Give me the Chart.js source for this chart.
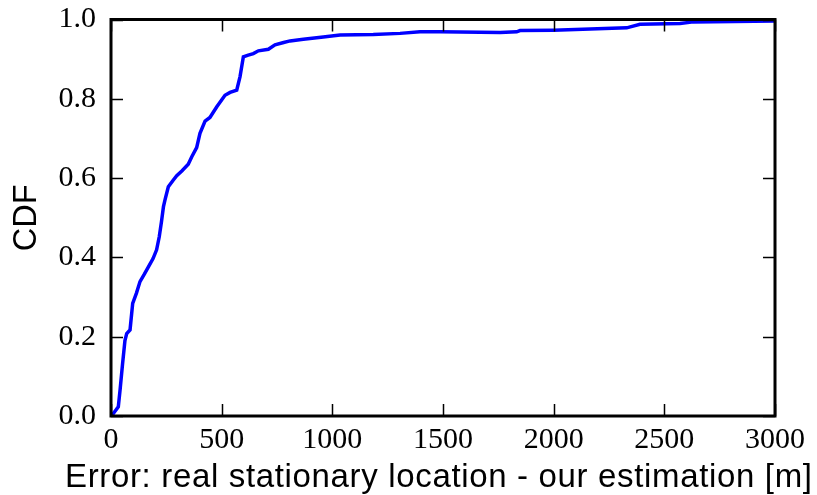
<!DOCTYPE html>
<html>
<head>
<meta charset="utf-8">
<style>
  html, body { margin: 0; padding: 0; background: #ffffff; }
  #wrap { width: 817px; height: 495px; }
</style>
<script src="https://cdn.jsdelivr.net/npm/chart.js@4/dist/chart.umd.min.js"></script>
</head>
<body>
<div id="wrap"><canvas id="cdf" width="817" height="495"></canvas></div>
<script>
// Localisation error (metres) and the empirical CDF at each point
const errorMeters = [2, 33, 41, 52, 63, 71, 86, 98, 115, 131, 150, 169, 190, 206, 218, 228, 237, 244, 259, 280, 297, 320, 349, 365, 387, 402, 425, 447, 478, 515, 538, 568, 583, 598, 620, 643, 666, 711, 741, 780, 809, 869, 959, 1035, 1185, 1306, 1396, 1487, 1758, 1833, 1848, 1999, 2165, 2330, 2390, 2571, 2631, 3000];
const cdfValues   = [0, 0.023, 0.066, 0.13, 0.19, 0.208, 0.217, 0.284, 0.31, 0.339, 0.357, 0.376, 0.397, 0.419, 0.452, 0.49, 0.528, 0.545, 0.578, 0.594, 0.606, 0.618, 0.635, 0.654, 0.677, 0.713, 0.744, 0.753, 0.78, 0.809, 0.816, 0.822, 0.856, 0.906, 0.91, 0.914, 0.921, 0.925, 0.936, 0.942, 0.946, 0.95, 0.956, 0.961, 0.962, 0.965, 0.969, 0.969, 0.967, 0.969, 0.972, 0.973, 0.976, 0.979, 0.988, 0.99, 0.994, 0.996];

// Axis ticks and their labels
const xTickValues = [0, 500, 1000, 1500, 2000, 2500, 3000];
const xTickLabels = ['0', '500', '1000', '1500', '2000', '2500', '3000'];
const yTickValues = [0, 0.2, 0.4, 0.6, 0.8, 1.0];
const yTickLabels = ['0.0', '0.2', '0.4', '0.6', '0.8', '1.0'];

const xTitle = 'Error: real stationary location - our estimation [m]';
const yTitle = 'CDF';

const points = errorMeters.map((e, i) => ({ x: e, y: cdfValues[i] }));

function labelFor(values, labels, v) {
  const i = values.findIndex(t => Math.abs(t - v) < 1e-9);
  return i >= 0 ? labels[i] : '';
}

// Black frame with inward tick marks on all four sides, plus the x-axis title
const framePlugin = {
  id: 'frameTicks',
  afterDatasetsDraw(chart) {
    const { ctx, chartArea: a, scales: { x, y } } = chart;
    const len = 12;
    ctx.save();
    ctx.strokeStyle = '#000000';
    ctx.lineWidth = 1.5;
    ctx.beginPath();
    xTickValues.forEach(v => {
      const px = Math.round(x.getPixelForValue(v)) + 0.5;
      ctx.moveTo(px, a.bottom); ctx.lineTo(px, a.bottom - len);
      ctx.moveTo(px, a.top); ctx.lineTo(px, a.top + len);
    });
    yTickValues.forEach(v => {
      const py = Math.round(y.getPixelForValue(v)) + 0.5;
      ctx.moveTo(a.left, py); ctx.lineTo(a.left + len, py);
      ctx.moveTo(a.right, py); ctx.lineTo(a.right - len, py);
    });
    ctx.stroke();
    ctx.lineWidth = 3;
    ctx.strokeRect(a.left, a.top, a.right - a.left, a.bottom - a.top);
    ctx.restore();
  },
  afterDraw(chart) {
    const { ctx } = chart;
    const left = 65, right = 812, baseline = 487;
    ctx.save();
    ctx.font = '33px "Liberation Sans", Arial, sans-serif';
    ctx.fillStyle = '#000000';
    ctx.textAlign = 'left';
    ctx.textBaseline = 'alphabetic';
    const natural = ctx.measureText(xTitle).width;
    const spacing = (right - left - natural) / (xTitle.length - 1);
    if ('letterSpacing' in ctx) {
      ctx.letterSpacing = spacing + 'px';
      ctx.fillText(xTitle, left, baseline);
    } else {
      let cx = left;
      for (const ch of xTitle) {
        ctx.fillText(ch, cx, baseline);
        cx += ctx.measureText(ch).width + spacing;
      }
    }
    ctx.restore();
  }
};

new Chart(document.getElementById('cdf'), {
  type: 'line',
  data: {
    datasets: [{
      data: points,
      borderColor: '#0000ff',
      borderWidth: 3.5,
      pointRadius: 0,
      tension: 0,
      fill: false
    }]
  },
  options: {
    responsive: false,
    animation: false,
    events: [],
    layout: { padding: { top: 19.5, right: 42, left: 0, bottom: 0 } },
    plugins: { legend: { display: false }, tooltip: { enabled: false } },
    scales: {
      x: {
        type: 'linear',
        min: 0, max: 3000,
        afterFit(s) { s.height = 79; s.paddingLeft = 0; s.paddingRight = 0; },
        afterBuildTicks(s) { s.ticks = xTickValues.map(v => ({ value: v })); },
        grid: { display: false, drawTicks: false },
        border: { display: false },
        ticks: {
          padding: 6,
          color: '#000000',
          maxRotation: 0,
          autoSkip: false,
          font: { family: '"Liberation Serif", serif', size: 30 },
          callback: v => labelFor(xTickValues, xTickLabels, v)
        },
        title: { display: false }
      },
      y: {
        type: 'linear',
        min: 0, max: 1,
        afterFit(s) { s.width = 111; s.paddingTop = 0; s.paddingBottom = 0; },
        afterBuildTicks(s) { s.ticks = yTickValues.map(v => ({ value: v })); },
        grid: { display: false, drawTicks: false },
        border: { display: false },
        ticks: {
          padding: 15,
          color: '#000000',
          autoSkip: false,
          font: { family: '"Liberation Serif", serif', size: 30 },
          callback: v => labelFor(yTickValues, yTickLabels, v)
        },
        title: {
          display: true,
          text: yTitle,
          color: '#000000',
          font: { family: '"Liberation Sans", Arial, sans-serif', size: 32.5, lineHeight: 1 },
          padding: { top: 11, bottom: 0 }
        }
      }
    }
  },
  plugins: [framePlugin]
});
</script>
</body>
</html>
